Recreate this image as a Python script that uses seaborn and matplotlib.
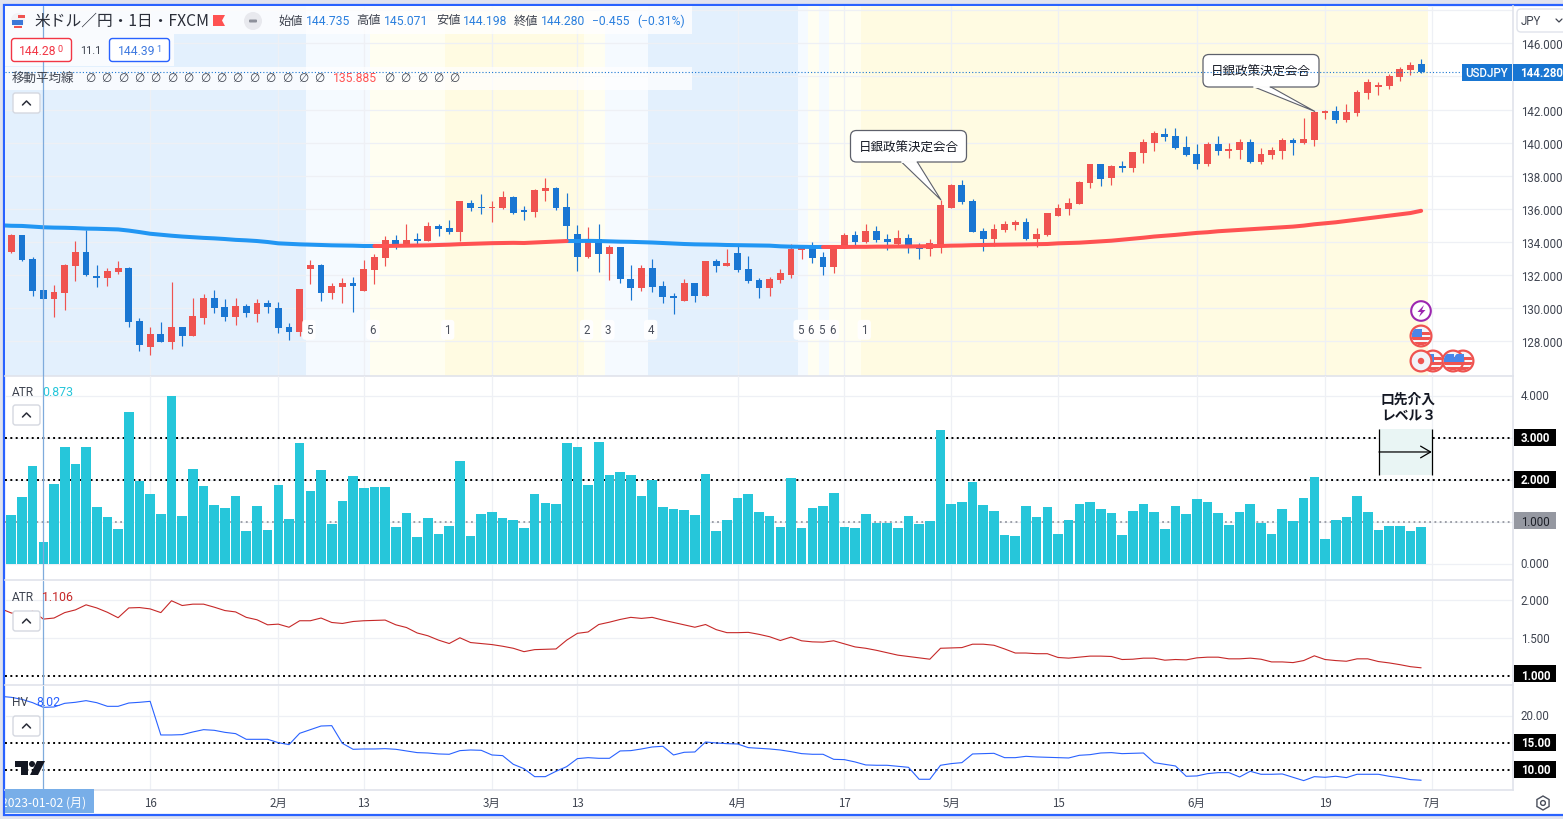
import numpy as np
import matplotlib
matplotlib.use("Agg")
import matplotlib.pyplot as plt
import seaborn as sns
from matplotlib.patches import Rectangle, FancyBboxPatch, Polygon, Circle, RegularPolygon
from matplotlib.transforms import Affine2D

opens = [133.40,134.42,132.98,131.10,130.56,130.92,132.55,133.40,131.95,131.83,
132.19,132.43,129.23,127.66,128.45,127.96,128.87,128.33,129.41,130.62,
130.08,129.47,130.14,129.66,130.32,130.02,128.87,128.57,132.37,132.61,
130.92,131.29,131.53,131.04,132.31,133.04,134.12,133.88,134.18,134.06,
134.97,134.85,134.61,136.36,136.12,136.08,136.06,136.72,135.94,135.82,
137.08,137.26,136.12,134.49,133.10,134.18,133.28,133.70,131.77,131.22,
132.43,131.35,130.74,130.44,131.53,130.74,132.85,132.55,133.34,132.37,
131.71,131.22,131.71,132.01,133.52,133.64,133.10,132.49,133.70,134.42,
134.00,134.67,134.18,133.88,134.24,133.70,133.58,133.88,136.06,137.45,
136.48,134.67,134.18,134.73,135.03,135.21,134.18,134.43,135.57,136.00,
136.30,137.57,138.71,137.87,138.59,138.47,139.38,139.98,140.53,140.41,
139.74,139.32,138.71,139.92,139.50,139.56,140.04,138.83,139.26,139.50,
140.16,139.98,140.16,141.79,141.92,141.37,141.79,143.00,143.37,143.43,
143.97,144.39,144.735]
highs = [134.46,134.42,133.10,131.10,131.41,132.67,134.06,134.73,132.61,132.43,
132.85,132.49,129.41,128.87,129.17,131.59,128.87,130.62,130.86,131.10,
130.56,130.62,130.26,130.56,130.50,130.38,129.11,131.16,132.92,132.67,
131.53,131.83,131.89,132.92,133.28,134.37,134.42,135.09,134.55,135.21,
135.09,135.33,136.48,136.54,136.90,136.48,137.08,136.78,136.18,137.20,
137.87,137.32,136.96,135.03,134.91,135.09,133.82,133.70,132.61,132.61,
132.98,131.65,130.92,131.77,131.53,132.85,132.98,133.58,133.76,133.16,
131.83,131.89,132.37,133.88,133.76,134.00,133.40,133.82,134.55,134.67,
135.09,134.97,134.49,134.73,134.49,133.94,134.18,136.54,137.51,137.75,
136.60,134.85,135.09,135.27,135.33,135.45,134.85,135.75,136.30,136.66,
137.69,138.71,138.71,138.65,138.90,139.44,140.22,140.71,140.89,140.89,
140.41,139.92,140.04,140.41,139.98,140.22,140.22,139.68,139.74,140.28,
140.28,141.49,141.92,141.98,142.22,142.34,143.18,143.85,143.67,144.15,
144.57,144.87,145.071]
lows = [133.34,132.85,130.74,130.56,129.47,129.90,131.65,131.95,131.28,131.35,
132.07,128.87,127.42,127.18,127.96,127.54,127.72,128.33,129.05,129.72,
129.23,128.99,129.47,129.17,129.72,128.51,128.08,128.33,131.47,130.44,
130.56,130.32,129.78,131.04,131.47,132.55,133.58,133.82,133.88,134.06,
134.37,134.49,134.06,135.88,135.69,135.21,136.00,135.69,135.33,135.51,
136.48,135.94,134.06,132.25,133.04,132.19,131.71,131.53,130.50,131.04,
130.98,130.32,129.66,130.44,130.38,130.74,132.19,132.55,132.19,131.53,
130.62,130.74,131.53,131.83,132.98,132.73,132.01,132.13,133.64,133.82,
133.94,134.00,133.52,133.82,133.34,132.98,133.16,133.34,136.06,136.30,
134.61,133.46,133.76,134.61,134.73,134.12,133.70,134.37,135.57,135.63,
136.30,137.26,137.39,137.45,138.23,138.23,138.77,139.50,140.10,139.62,
139.20,138.41,138.59,139.26,139.08,139.02,138.77,138.71,139.02,139.02,
139.26,139.92,139.80,141.43,141.19,141.25,141.61,142.64,142.88,143.24,
143.73,144.09,144.198]
closes = [134.42,132.92,131.04,130.56,130.98,132.61,133.40,132.01,131.85,132.25,
132.43,129.17,127.78,128.45,127.96,128.87,128.33,129.53,130.62,130.02,
129.47,130.14,129.72,130.32,130.08,128.81,128.57,131.16,132.61,130.92,
131.35,131.53,131.35,132.37,133.10,134.12,133.88,134.12,134.08,134.97,
134.79,134.61,136.48,136.06,136.06,136.12,136.72,135.75,135.84,137.14,
137.26,136.06,134.97,133.10,134.18,133.28,133.70,131.77,131.22,132.43,
131.28,130.68,130.62,131.53,130.74,132.85,132.55,132.73,132.31,131.65,
131.22,131.77,132.13,133.58,133.64,133.04,132.49,133.70,134.42,134.00,
134.67,134.12,134.00,134.24,133.64,133.58,133.94,136.24,137.45,136.42,
134.61,134.18,134.79,135.09,135.21,134.18,134.49,135.75,136.06,136.36,
137.63,138.71,137.81,138.59,138.47,139.44,140.04,140.59,140.35,139.68,
139.26,138.71,139.92,139.50,139.62,140.04,138.83,139.32,139.56,140.16,
139.98,140.22,141.85,141.92,141.37,141.85,143.06,143.67,143.49,144.03,
144.45,144.69,144.28]
# moving average; first value belongs to the session before the first candle
ma_line = [135.01,134.98,134.97,134.93,134.89,134.87,134.86,134.84,134.81,134.80,134.78,
134.76,134.69,134.60,134.50,134.44,134.38,134.33,134.29,134.25,134.22,
134.18,134.13,134.10,134.06,134.00,133.92,133.89,133.86,133.84,133.82,
133.80,133.79,133.78,133.76,133.76,133.76,133.77,133.78,133.79,133.80,
133.82,133.84,133.87,133.89,133.91,133.93,133.94,133.95,133.94,133.97,
134.00,134.03,134.06,134.06,134.07,134.06,134.04,134.02,134.01,133.99,
133.97,133.94,133.91,133.88,133.86,133.85,133.84,133.82,133.81,133.80,
133.79,133.78,133.74,133.72,133.71,133.70,133.70,133.70,133.70,133.71,
133.71,133.72,133.72,133.73,133.73,133.74,133.75,133.76,133.78,133.79,
133.81,133.82,133.83,133.84,133.85,133.86,133.87,133.88,133.92,133.94,
133.96,134.00,134.04,134.08,134.14,134.20,134.26,134.33,134.38,134.43,
134.49,134.55,134.59,134.65,134.69,134.73,134.77,134.81,134.85,134.89,
134.93,134.99,135.07,135.13,135.19,135.27,135.35,135.43,135.51,135.59,
135.67,135.75,135.885]
atr_bars = [1.167,1.595,2.333,0.524,1.905,2.786,2.381,2.786,1.357,1.119,
0.833,3.619,1.976,1.667,1.190,4.000,1.143,2.262,1.857,1.405,
1.333,1.619,0.786,1.381,0.810,1.881,1.071,2.881,1.738,2.238,
0.952,1.500,2.095,1.810,1.833,1.833,0.881,1.214,0.643,1.095,
0.714,0.905,2.452,0.667,1.190,1.238,1.095,1.048,0.857,1.667,
1.452,1.429,2.881,2.786,1.881,2.905,2.119,2.190,2.119,1.619,
2.000,1.357,1.310,1.286,1.167,2.143,0.786,1.048,1.571,1.667,
1.238,1.143,0.881,2.048,0.857,1.333,1.381,1.690,0.881,0.857,
1.190,0.976,0.976,0.857,1.143,0.952,1.024,3.190,1.429,1.476,
1.952,1.405,1.262,0.690,0.667,1.381,1.119,1.357,0.714,1.048,
1.429,1.476,1.310,1.214,0.690,1.262,1.429,1.238,0.833,1.381,
1.190,1.548,1.476,1.214,0.929,1.238,1.429,0.976,0.714,1.310,
1.024,1.571,2.071,0.595,1.048,1.119,1.619,1.238,0.810,0.905,
0.905,0.786,0.873]
atr_line = [1.890,1.833,1.820,1.856,1.752,1.766,1.838,1.874,1.941,1.900,1.842,
1.770,1.900,1.905,1.887,1.838,1.995,1.932,1.950,1.950,1.910,
1.865,1.847,1.775,1.743,1.676,1.685,1.644,1.730,1.730,1.766,
1.707,1.694,1.720,1.730,1.734,1.739,1.676,1.640,1.568,1.531,
1.473,1.428,1.504,1.441,1.428,1.414,1.392,1.365,1.320,1.347,
1.351,1.356,1.473,1.563,1.581,1.680,1.711,1.747,1.775,1.761,
1.775,1.739,1.707,1.676,1.644,1.680,1.612,1.572,1.572,1.576,
1.550,1.518,1.468,1.513,1.464,1.450,1.446,1.464,1.423,1.383,
1.365,1.338,1.306,1.274,1.256,1.238,1.220,1.365,1.369,1.374,
1.419,1.419,1.405,1.356,1.302,1.302,1.293,1.293,1.243,1.234,
1.247,1.261,1.261,1.256,1.216,1.220,1.234,1.234,1.207,1.216,
1.211,1.238,1.247,1.247,1.225,1.225,1.234,1.220,1.184,1.184,
1.175,1.202,1.265,1.216,1.202,1.193,1.225,1.225,1.189,1.171,
1.148,1.121,1.106]
hv_line = [23.66,23.48,23.10,22.48,21.61,21.68,22.36,22.55,22.86,22.48,21.80,
21.80,22.42,22.55,22.73,16.46,16.46,16.52,17.02,17.45,17.33,
16.95,16.71,15.65,15.65,15.65,15.03,14.66,16.77,17.45,18.13,
18.20,14.90,13.79,13.85,13.85,13.91,13.79,13.48,13.17,13.10,
12.92,12.86,13.54,13.66,13.60,12.73,12.61,10.99,10.18,8.69,
8.69,9.69,10.56,12.05,12.23,12.11,12.11,13.48,13.54,13.85,
14.22,14.35,12.73,13.23,13.29,15.15,14.97,14.84,14.78,14.10,
13.97,13.85,13.66,13.35,12.98,12.86,12.86,11.92,11.86,11.43,
10.87,10.81,10.81,10.62,10.43,8.20,8.20,10.81,11.12,11.30,
12.92,12.98,13.04,12.23,12.23,12.48,12.36,12.30,12.23,12.17,
12.67,12.79,13.10,13.17,12.98,13.04,13.10,11.30,10.99,10.68,
8.76,8.82,9.25,9.44,9.44,8.63,9.69,9.13,9.13,9.19,
8.57,7.95,8.69,8.57,8.76,8.51,9.13,9.13,9.13,8.76,
8.51,8.14,8.02]
time_ticks = [14,26,34,46,54,69,79,89,99,112,124,134]
time_labels = ["16","2月","13","3月","13","4月","17","5月","15","6月","19","7月"]
price_grid = [128,130,132,134,136,138,140,142,144,146,148]
price_ticks = [128,130,132,134,136,138,140,142,146]
session_edges = [0.41,28.6,34.55,41.6,54.6,56.6,60.6,74.65,75.6,76.6,77.6,80.6,133.6]
session_colors = ["#e3f0fd","#f5faff","#fffef1","#fffbe2","#fffef1","#f5faff","#e3f0fd",
                  "#f5faff","#fffef1","#f5faff","#fffef1","#fffbe2"]
session_tags = [29,35,42,55,57,61,75,76,77,78,81]
tag_labels = ["5","6","1","2","3","4","5","6","5","6","1"]
ma_blue_spans = [(0,35),(53,77)]
ma_red_spans = [(35,53),(77,133)]

W, H = 1563, 820
sns.set_theme(style="white")
plt.rcParams['font.family'] = ['Roboto', 'Noto Sans CJK JP', 'DejaVu Sans']
PX = Affine2D().scale(1, -1).translate(0, H)
CJK = ['Noto Sans CJK JP', 'DejaVu Sans']
GRID = "#eef0f5"; SEP = "#e0e3eb"; TXT = "#131722"; TICK = "#3f4450"
UP = "#ef5350"; DOWN = "#1976d2"; TEAL = "#26c6da"
GREY_BG = "#e1e3ee"; FRAME = "#2962ff"
DOTS = (0, (1, 1.75))

fig = plt.figure(figsize=(W/100, H/100), dpi=100, facecolor=GREY_BG)
fig.add_artist(Rectangle((4, 6), 1600, 810, transform=PX, fc="white", ec=FRAME, lw=1.6, zorder=-5))

def pane(top, bottom):
    return fig.add_axes([5/W, 1-bottom/H, 1508/W, (bottom-top)/H], facecolor="none")

ax0, ax1, ax2, ax3 = pane(7, 377), pane(377, 581), pane(582, 686), pane(687, 791)
idx = np.arange(1, 134)
idx0 = np.arange(0, 134)
opens_a, highs_a, lows_a, closes_a = map(np.array, (opens, highs, lows, closes))

ylims = [(125.91, 148.25), (-0.381, 4.476), (0.878, 2.257), (6.2, 25.59)]
for ax, yl in zip((ax0, ax1, ax2, ax3), ylims):
    ax.set_xlim(0.41, 141.6); ax.set_ylim(*yl)
    ax.yaxis.tick_right()
    for s in ("top", "left"):
        ax.spines[s].set_visible(False)
    ax.spines["right"].set_color(SEP); ax.spines["bottom"].set_color(SEP)
    ax.spines["right"].set_linewidth(1.2); ax.spines["bottom"].set_linewidth(1.2)
    ax.tick_params(axis="y", length=0, pad=5.5, labelsize=8.3, labelcolor=TICK)
    ax.tick_params(axis="x", length=0)

def vgrid(ax):
    for t_ in time_ticks:
        ax.axvline(t_, color=GRID, lw=0.9, zorder=0.5)
    ax.axvline(4, color="#7fabdc", lw=0.9, zorder=6)

# price pane
for a, b, c in zip(session_edges[:-1], session_edges[1:], session_colors):
    ax0.axvspan(a, b, color=c, lw=0, zorder=0)
for v in price_grid:
    ax0.axhline(v, color=GRID, lw=0.9, zorder=0.6)
vgrid(ax0)
cols = [UP if c >= o else DOWN for o, c in zip(opens, closes)]
ax0.vlines(idx, lows_a, highs_a, colors=cols, lw=0.85, zorder=2)
ax0.bar(idx, np.abs(closes_a-opens_a), bottom=np.minimum(opens_a, closes_a), width=0.64, color=cols, lw=0, zorder=3)
ma = np.array(ma_line)
for spans, col in ((ma_blue_spans, "#2196f3"), (ma_red_spans, "#ff5252")):
    for a, b in spans:
        sns.lineplot(x=idx0[a:b+1], y=ma[a:b+1], ax=ax0, color=col, lw=2.9, legend=False, zorder=4,
                     errorbar=None, solid_capstyle="round")
ax0.axhline(closes[-1], color=DOWN, lw=0.8, ls=(0, (1, 1.9)), zorder=5)
ax0.set_yticks(price_ticks); ax0.set_yticklabels([f"{v:.3f}" for v in price_ticks])
for t_, lab in zip(session_tags, tag_labels):
    ax0.text(t_-0.14, 128.7, lab, ha="center", va="center", fontsize=8.3, color="#4a4f5c", zorder=5,
             bbox=dict(boxstyle="round,pad=0.3", fc="white", ec="none", alpha=0.95))

# ATR histogram pane
for v in [0, 1, 2, 3, 4]:
    ax1.axhline(v, color=GRID, lw=0.9, zorder=0.5)
vgrid(ax1)
ax1.axhline(1, color="#9598a1", lw=1.3, ls=(0, (1, 1.9)), zorder=1)
for v in (2, 3):
    ax1.axhline(v, color="black", lw=1.4, ls=DOTS, zorder=1)
sns.barplot(x=idx, y=atr_bars, ax=ax1, native_scale=True, color=TEAL, saturation=1, width=0.9, lw=0, zorder=3)
ax1.set_xlim(0.41, 141.6); ax1.set_ylim(*ylims[1])
ax1.set_ylabel(""); ax1.set_xlabel("")
ax1.add_patch(Rectangle((129.05, 2.12), 4.95, 1.095, fc="#e9f5f4", ec="none", zorder=2))
ax1.vlines([129.05, 134], 2.12, 3.215, color="black", lw=0.9, zorder=4)
ax1.annotate("", xy=(134, 2.667), xytext=(129.05, 2.667),
             arrowprops=dict(arrowstyle="->,head_length=0.6,head_width=0.35", color="black", lw=0.9, shrinkA=0, shrinkB=0), zorder=4)
ax1.text(131.8, 3.74, "口先介入\nレベル３", family=CJK, fontsize=9.9, fontweight="bold", color=TXT, ha="center", va="center", linespacing=1.22)
ax1.set_yticks([0, 1, 2, 3, 4]); ax1.set_yticklabels(["0.000", "1.000", "2.000", "3.000", "4.000"])

# ATR line pane
for v in [1.5, 2.0]:
    ax2.axhline(v, color=GRID, lw=0.9, zorder=0.5)
vgrid(ax2)
ax2.axhline(1, color="black", lw=1.4, ls=DOTS, zorder=1)
sns.lineplot(x=idx0, y=atr_line, ax=ax2, color="#c62828", lw=0.8, legend=False, zorder=3, errorbar=None)
ax2.set_yticks([1, 1.5, 2]); ax2.set_yticklabels(["1.000", "1.500", "2.000"])

# HV pane
ax3.axhline(20, color=GRID, lw=0.9, zorder=0.5)
vgrid(ax3)
for v in (10, 15):
    ax3.axhline(v, color="black", lw=1.4, ls=DOTS, zorder=1)
sns.lineplot(x=idx0, y=hv_line, ax=ax3, color="#2962ff", lw=0.8, legend=False, zorder=3, errorbar=None)
ax3.set_yticks([10, 15, 20]); ax3.set_yticklabels(["10.00", "15.00", "20.00"])
ax3.set_xticks(time_ticks); ax3.set_xticklabels(time_labels, family=CJK, fontsize=8.3, color=TICK)
ax3.tick_params(axis="x", pad=4.2, bottom=True, length=0)

for ax in (ax0, ax1, ax2):
    ax.set_xticks([]); ax.set_xlabel("")
for ax in (ax0, ax1, ax2, ax3):
    ax.set_ylabel(""); ax.set_xlim(0.41, 141.6)
for ax, yl in zip((ax0, ax1, ax2, ax3), ylims):
    ax.set_ylim(*yl)

# lift the lower panes' axis labels a little
for ax in (ax1, ax2, ax3):
    for lab in ax.get_yticklabels():
        lab.set_transform(lab.get_transform() + Affine2D().translate(0, 1.5))

# overlays in picture pixels
def t(x, y, s, color=TXT, size=8.6, ha="left", va="center", fam=None, **kw):
    return fig.text(x, y, s, transform=PX, color=color, fontsize=size, ha=ha, va=va,
                    family=fam if fam else plt.rcParams['font.family'], zorder=20, **kw)
def rect(x0, y0, x1, y1, fc, ec="none", lw=0, alpha=None, z=15):
    r = Rectangle((x0, y0), x1-x0, y1-y0, transform=PX, fc=fc, ec=ec, lw=lw, alpha=alpha, zorder=z)
    fig.add_artist(r); return r
def rbox(x0, y0, x1, y1, fc, ec, lw=1.0, r=3, z=16, host=None):
    b = FancyBboxPatch((x0+r, y0+r), x1-x0-2*r, y1-y0-2*r, boxstyle=f"round,pad={r},rounding_size={r}",
                       transform=PX, fc=fc, ec=ec, lw=lw, zorder=z)
    (host or fig).add_artist(b); return b

# highlighted axis levels: solid plates behind the tick labels
def boxed(ax, value, fc, tc, yc, x1=1556, bold=True):
    rect(1513.5, yc-8.5, x1, yc+8.5, fc, z=-1)
    for lab, tk in zip(ax.get_yticklabels(), ax.get_yticks()):
        if abs(tk-value) < 1e-9:
            lab.set_color(tc)
            lab.set_fontweight("bold" if bold else "normal")
boxed(ax1, 3, "black", "white", 438.5); boxed(ax1, 2, "black", "white", 480.5)
boxed(ax1, 1, "#9598a1", "#1d2028", 521.5, bold=False)
boxed(ax2, 1, "black", "white", 674.5); boxed(ax3, 15, "black", "white", 743.5); boxed(ax3, 10, "black", "white", 770.5)

# legend backdrops sit under the last-price dotted line
for x0, y0, x1, y1, al in ((5, 7, 692, 35, 0.8), (5, 35, 174, 67, 0.8), (5, 68, 692, 91, 0.72)):
    ax0.add_artist(Rectangle((x0, y0), x1-x0, y1-y0, transform=PX, fc="white", ec="none", alpha=al, zorder=4.5))

OV = "#2a7fde"
t(34, 21, "米ドル／円・1日・FXCM", size=11.3, fam=CJK, color="#2a2e39")
fig.add_artist(Polygon([(213, 16), (225, 16), (222, 21.5), (225, 27), (213, 27)], transform=PX, fc="#ff5252", ec="none", zorder=17))
fig.add_artist(Circle((253, 22), 9, transform=PX, fc="#e8e9ee", ec="none", zorder=17))
rbox(249, 20.5, 257, 23.5, "#8e919b", "none", r=1, z=18)
fig.add_artist(Circle((18, 21), 7, transform=PX, fc="#f2f3f6", ec="none", zorder=17))
rect(12, 21, 23, 26, "#3b78d8", z=18); rect(14, 27, 22, 29, "#ef5350", z=18); rect(18, 16, 25, 19, "#ef5350", z=18)
for x, s in ((278, "始値"), (356.5, "高値"), (436, "安値"), (514, "終値")):
    t(x, 21, s, fam=CJK, color="#3f4450", size=8.8)
for x, s in ((306, "144.735"), (384, "145.071"), (463, "144.198"), (541, "144.280"), (592, "−0.455"), (637, "(−0.31%)")):
    t(x, 21.5, s, color=OV, size=8.7)
rbox(11.5, 39.5, 71.5, 62.5, "white", "#f23645")
t(19, 51.5, "144.28", color="#f23645", size=8.7)
t(57, 49.5, "0", color="#f23645", size=6.6)
t(80, 51, "11.1", color="#3f4450", size=7.8)
rbox(109.5, 39.5, 169.5, 62.5, "white", "#2962ff")
t(118, 51.5, "144.39", color="#3f7ae0", size=8.7)
t(156, 49.5, "1", color="#3f7ae0", size=6.6)
t(12, 79, "移動平均線", fam=CJK, size=9.0, color="#3f4450")
for k in range(15):
    t(90+16.4*k, 78.5, "∅", fam=['DejaVu Sans'], size=8.5, color="#3f4450", ha="center")
t(333, 78.5, "135.885", color="#ff5252", size=8.7)
for k in range(5):
    t(389+16.4*k, 78.5, "∅", fam=['DejaVu Sans'], size=8.5, color="#3f4450", ha="center")
for y0 in (94, 406, 612, 717):
    rbox(13, y0, 40, y0+20, "white", "#d5d8e0", r=2.5)
    fig.add_artist(plt.Line2D([22.5, 26.5, 30.5], [y0+12, y0+8, y0+12], transform=PX, color="#2a2e39", lw=1.1, zorder=18))
t(12, 393, "ATR", color="#3f4450", size=8.6)
t(42, 393, "0.873", color=TEAL, size=8.9)
t(12, 598, "ATR", color="#3f4450", size=8.6)
t(42, 598, "1.106", color="#c62828", size=8.9)
t(12, 703, "HV", color="#3f4450", size=8.6)
t(36, 703, "8.02", color="#2962ff", size=8.9)

# callouts live in the price pane, under the dotted last-price line
def callout(x0, y0, x1, y1, tail, tip):
    ax0.add_artist(Polygon([(tail[0], y1-0.5), tip, (tail[1], y1-0.5)], closed=True, transform=PX, fc="white", ec="#5d606b", lw=0.8, zorder=4.2))
    rbox(x0, y0, x1, y1, "white", "#5d606b", lw=0.9, r=6, z=4.6, host=ax0)
    ax0.add_artist(plt.Line2D([tail[0]+1, tail[1]-1], [y1, y1], transform=PX, color="white", lw=1.4, zorder=4.7))
    tx = ax0.text((x0+x1)/2, (y0+y1)/2+1, "日銀政策決定会合", transform=PX, family=CJK, fontsize=9.0, color=TXT, ha="center", va="center", zorder=4.8)
    tx.set_clip_on(False)
callout(850.5, 131.5, 966.5, 163, (901, 917), (941, 201))
callout(1203, 55.5, 1319, 88, (1253, 1270), (1315, 112.5))

# last price labels
rect(1462, 65, 1512, 82, DOWN)
t(1487, 73.5, "USDJPY", color="white", size=8.3, ha="center", fontweight="medium")
rect(1513, 65, 1563, 82, DOWN)
t(1520.5, 73.5, "144.280", color="white", size=8.3, fontweight="bold")
rbox(1517, 10, 1570, 33, "white", "#e0e3eb", r=4)
t(1521, 21.5, "JPY", color="#3f4450", size=8.3)
fig.add_artist(plt.Line2D([1556, 1559, 1562], [20, 23, 20], transform=PX, color="#3f4450", lw=0.9, zorder=18))

# event icons
def flag(x, y):
    fig.add_artist(Circle((x, y), 10.4, transform=PX, fc="#f5f6f9", ec="#ef5350", lw=1.6, zorder=12))
    clip = Circle((x, y), 9.4, transform=PX)
    for x0, yy in ((x-10, y+1), (x-10, y+6), (x, y-4)):
        r = rect(x0, yy, x+10, yy+3, "#ef5350", z=12.5); r.set_clip_path(clip)
    r = rect(x-9, y-7, x+0.5, y+0.5, "#4a86e8", z=12.6); r.set_clip_path(clip)
for x in (1433, 1463, 1453):
    flag(x, 362)
flag(1421, 337)
fig.add_artist(Circle((1421, 362), 10.4, transform=PX, fc="#f2f3f8", ec="#ef5350", lw=1.6, zorder=13))
fig.add_artist(Circle((1421, 362), 3.2, transform=PX, fc="#ef5350", ec="none", zorder=13.5))
fig.add_artist(Circle((1421, 312), 9.8, transform=PX, fc="white", ec="#9c27b0", lw=1.5, zorder=13))
fig.add_artist(Polygon([(1424, 306), (1417.5, 313), (1421, 313), (1419, 318), (1425.5, 311), (1422, 311)], transform=PX, fc="#9c27b0", ec="none", zorder=13.5))

# logo
fig.add_artist(Polygon([(15, 762), (28, 762), (28, 776), (21, 776), (21, 768), (15, 768)], transform=PX, fc="#131722", ec="none", zorder=14))
fig.add_artist(Circle((32, 765), 3, transform=PX, fc="#131722", ec="none", zorder=14))
fig.add_artist(Polygon([(37, 762), (45, 762), (38, 776), (30, 776)], transform=PX, fc="#131722", ec="none", zorder=14))

# crosshair date label
rect(5, 790, 94, 814, "#78aee8", z=15)
lab = t(44, 803, "2023-01-02 (月)", color="white", size=8.7, ha="center", fam=CJK)
lab.set_clip_path(Rectangle((5, 790), 89, 24, transform=PX))

# settings icon
fig.add_artist(RegularPolygon((1543, 804), 6, radius=7, transform=PX, fc="none", ec="#4a4f5c", lw=1.0, zorder=14))
fig.add_artist(Circle((1543, 804), 2.4, transform=PX, fc="none", ec="#4a4f5c", lw=1.0, zorder=14))

fig.savefig("out.png", dpi=100, facecolor=fig.get_facecolor())
